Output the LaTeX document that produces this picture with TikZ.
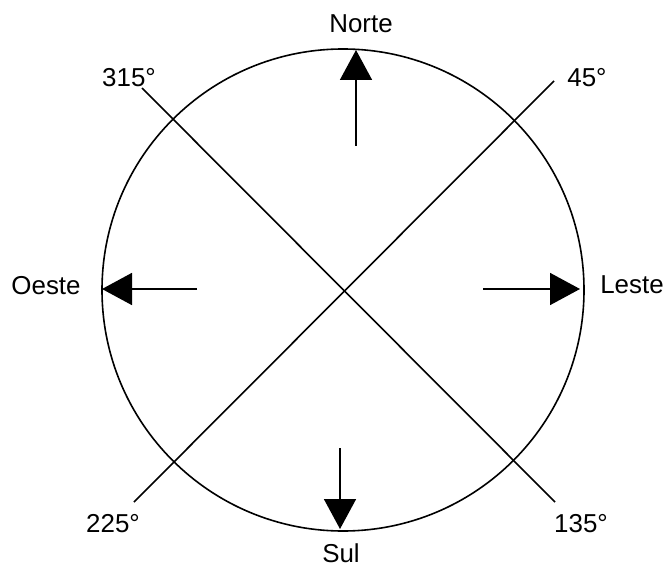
\documentclass[tikz,border=0pt]{standalone}
\usepackage{fontspec}
\setmainfont{Liberation Sans}
\usetikzlibrary{arrows.meta}
\begin{document}
\begin{tikzpicture}[x=1bp,y=-1bp,
  lbl/.style={font=\fontsize{26}{30}\selectfont, inner sep=0pt},
  ln/.style={line width=1.6bp, black},
  dirarrow/.style={ln, -{Triangle[length=30bp,width=32bp]}}]
\useasboundingbox (0,0) rectangle (667,568);
\coordinate (c) at (343,290);
\draw[ln] (c) circle[radius=241];
% diagonals
\coordinate (d315) at (142,88);
\coordinate (d135) at (555,502);
\coordinate (d45) at (554,81);
\coordinate (d225) at (134,502);
\draw[ln] (d315) -- (d135);
\draw[ln] (d45) -- (d225);
% arrows
\coordinate (ns) at (356,146);
\coordinate (nt) at (356,50);
\coordinate (ss) at (340,448);
\coordinate (st) at (340,529);
\coordinate (ws) at (197,289);
\coordinate (wt) at (102,289);
\coordinate (es) at (483,289);
\coordinate (et) at (580,289);
\draw[dirarrow] (ns) -- (nt);
\draw[dirarrow] (ss) -- (st);
\draw[dirarrow] (ws) -- (wt);
\draw[dirarrow] (es) -- (et);
% labels
\node[lbl] (norte) at (361,24) {Norte};
\node[lbl] (sul) at (341,553) {Sul};
\node[lbl] (oeste) at (46,286) {Oeste};
\node[lbl] (leste) at (632,285) {Leste};
\node[lbl] (l315) at (129,78) {315°};
\node[lbl] (l45) at (587,78) {45°};
\node[lbl] (l225) at (113,524) {225°};
\node[lbl] (l135) at (581,524) {135°};
\end{tikzpicture}
\end{document}
